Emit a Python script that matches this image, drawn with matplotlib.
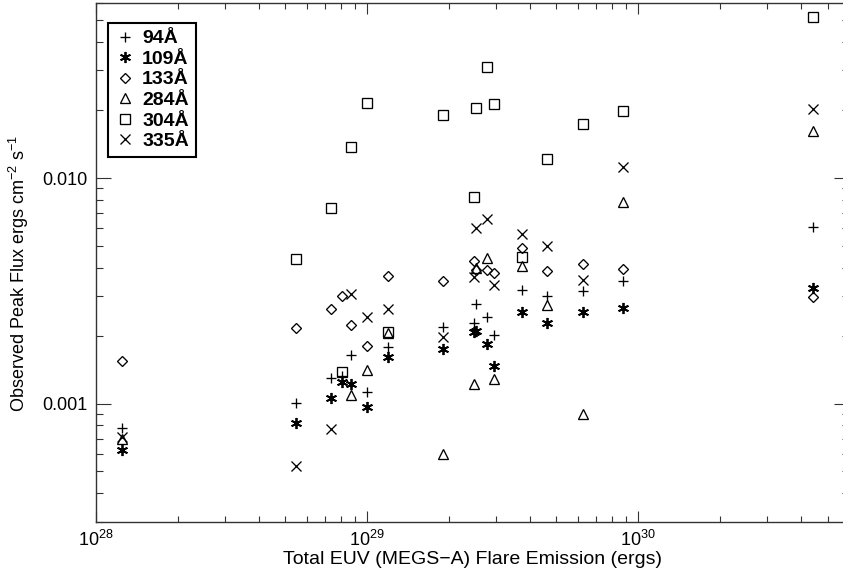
import numpy as np
import matplotlib
matplotlib.use("Agg")
import matplotlib.pyplot as plt
from matplotlib.ticker import FixedLocator, FixedFormatter, LogLocator, NullFormatter

plt.rcParams['font.family'] = ['Liberation Sans', 'DejaVu Sans']
plt.rcParams['mathtext.default'] = 'regular'

nan = np.nan

# total EUV (MEGS-A) energy of each flare, ergs
flare_energy = [1.25e28, 5.47e28, 7.35e28, 8.11e28, 8.71e28, 1.00e29, 1.19e29,
                1.90e29, 2.48e29, 2.52e29, 2.76e29, 2.94e29, 3.73e29, 4.63e29,
                6.28e29, 8.83e29, 4.43e30]

# observed peak flux per channel, ergs cm^-2 s^-1
flux_94 = [7.8e-4, 1.01e-3, 1.30e-3, 1.32e-3, 1.64e-3, 1.13e-3, 1.78e-3, 2.19e-3,
           2.27e-3, 2.76e-3, 2.43e-3, 2.01e-3, 3.19e-3, 3.01e-3, 3.16e-3, 3.50e-3, 6.08e-3]
flux_109 = [6.2e-4, 8.2e-4, 1.06e-3, 1.24e-3, 1.22e-3, 9.7e-4, 1.61e-3, 1.75e-3,
            2.08e-3, 2.10e-3, 1.83e-3, 1.47e-3, 2.55e-3, 2.27e-3, 2.55e-3, 2.66e-3, 3.27e-3]
flux_133 = [1.55e-3, 2.17e-3, 2.62e-3, 3.00e-3, 2.23e-3, 1.80e-3, 3.66e-3, 3.50e-3,
            4.30e-3, 3.90e-3, 3.91e-3, 3.80e-3, 4.88e-3, 3.88e-3, 4.14e-3, 3.95e-3, 2.97e-3]
flux_284 = [7.0e-4, nan, nan, nan, 1.09e-3, 1.41e-3, 2.06e-3, 6.0e-4,
            1.22e-3, 4.00e-3, 4.44e-3, 1.28e-3, 4.08e-3, 2.73e-3, 8.95e-4, 7.85e-3, 1.616e-2]
flux_304 = [nan, 4.36e-3, 7.34e-3, 1.38e-3, 1.372e-2, 2.16e-2, 2.08e-3, 1.903e-2,
            8.21e-3, 2.04e-2, 3.12e-2, 2.13e-2, 4.45e-3, 1.214e-2, 1.737e-2, 1.983e-2, 5.16e-2]
flux_335 = [7.1e-4, 5.3e-4, 7.7e-4, nan, 3.06e-3, 2.41e-3, 2.63e-3, 1.98e-3,
            3.65e-3, 5.98e-3, 6.55e-3, 3.34e-3, 5.63e-3, 5.01e-3, 3.53e-3, 1.115e-2, 2.024e-2]

channels = ['94Å', '109Å', '133Å', '284Å', '304Å', '335Å']
fluxes = [flux_94, flux_109, flux_133, flux_284, flux_304, flux_335]
markers = ['+', (6, 2, 0), 'D', '^', 's', 'x']
sizes = [7.5, 8.0, 5.2, 7.2, 7.2, 7.2]
widths = [0.95, 1.3, 0.95, 0.95, 0.95, 0.95]

fig = plt.figure(figsize=(8.43, 5.76), dpi=100)
W, H = 843, 576
ax = fig.add_axes([96 / W, (H - 521.5) / H, 753 / W, 519 / H])

for name, flux, m, ms, mw in zip(channels, fluxes, markers, sizes, widths):
    ax.plot(flare_energy, flux, linestyle='none', marker=m, markersize=ms,
            markerfacecolor='none', markeredgecolor='black', markeredgewidth=mw,
            label=name)

ax.set_xscale('log')
ax.set_yscale('log')
ax.set_xlim(1e28, 6e30)
ax.set_ylim(3e-4, 0.06)

ax.xaxis.set_major_locator(FixedLocator([1e28, 1e29, 1e30]))
ax.xaxis.set_minor_locator(LogLocator(base=10, subs=np.arange(2, 10)))
ax.xaxis.set_minor_formatter(NullFormatter())
ax.yaxis.set_major_locator(FixedLocator([1e-3, 1e-2]))
ax.yaxis.set_major_formatter(FixedFormatter(['0.001', '0.010']))
ax.yaxis.set_minor_locator(LogLocator(base=10, subs=np.arange(2, 10)))
ax.yaxis.set_minor_formatter(NullFormatter())

spine_color = '#333333'
for s in ax.spines.values():
    s.set_color(spine_color)
    s.set_linewidth(1.0)
ax.tick_params(which='both', direction='in', top=True, right=True,
               color=spine_color, width=0.8, labelsize=13)
ax.tick_params(axis='x', which='major', length=8, pad=6)
ax.tick_params(axis='x', which='minor', length=4)
ax.tick_params(axis='y', which='major', length=11, pad=6)
ax.tick_params(axis='y', which='minor', length=5)

ax.set_xlabel('Total EUV (MEGS\u2212A) Flare Emission (ergs)', fontsize=14, labelpad=1)
ax.set_ylabel('Observed Peak Flux ergs cm$^{-2}$ s$^{-1}$', fontsize=13)
ax.yaxis.set_label_coords(-0.0863, 0.478)

leg = ax.legend(loc='upper left', bbox_to_anchor=(12 / 753, 1 - 20.5 / 519),
                borderaxespad=0, frameon=True, fancybox=False, framealpha=1,
                edgecolor='black', prop={'weight': 'bold', 'size': 14},
                handlelength=1.0, handletextpad=0.4, labelspacing=0.15,
                borderpad=0.35, numpoints=1)
leg.get_frame().set_linewidth(1.5)

fig.savefig('out.png', dpi=100)
